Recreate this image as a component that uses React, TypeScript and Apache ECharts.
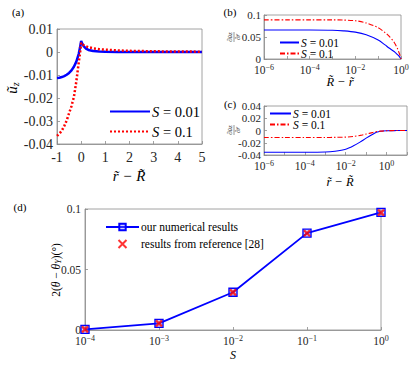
import React, { useEffect, useRef } from 'react';
import * as echarts from 'echarts';

const FONT = 'Liberation Serif';

// Panel (a)
const aX = [-1, -0.9, -0.8, -0.7, -0.6, -0.5, -0.4, -0.3, -0.2, -0.1, -0.05, 0, 0.05, 0.1, 0.2, 0.3, 0.5, 0.75, 1, 1.5, 2, 3, 4, 5];
const aBlue = [-0.0113, -0.0112, -0.0109, -0.0105, -0.0099, -0.0091, -0.008, -0.0064, -0.0042, -0.0008, 0.0018, 0.0048, 0.0035, 0.0026, 0.0015, 0.0009, 0.0004, 0.0002, 0.0001, 0.00005, 0, 0, 0, 0];
const aRed = [-0.0365, -0.0355, -0.0342, -0.0322, -0.0298, -0.0266, -0.0235, -0.0195, -0.0128, -0.0045, -0.0008, 0.004, 0.0034, 0.003, 0.0025, 0.0021, 0.0016, 0.0012, 0.001, 0.0007, 0.0005, 0.0003, 0.0002, 0.00015];

// Panel (b)
const bX = [1e-6, 1e-5, 1e-4, 1e-3, 3e-3, 1e-2, 3e-2, 0.1, 0.2, 0.3, 0.5, 0.7, 0.8, 0.9, 1];
const bBlue = [0.066, 0.066, 0.066, 0.0655, 0.064, 0.061, 0.055, 0.043, 0.032, 0.025, 0.017, 0.01, 0.007, 0.0035, 0];
const bRed = [0.089, 0.089, 0.089, 0.089, 0.0885, 0.087, 0.082, 0.071, 0.06, 0.052, 0.038, 0.024, 0.016, 0.009, 0];

// Panel (c)
const cX = [1e-6, 1e-5, 1e-4, 1e-3, 3e-3, 1e-2, 2.4e-2, 5e-2, 0.1, 0.2, 0.316, 0.5, 1, 3, 10];
const cBlue = [-0.0355, -0.0355, -0.0355, -0.0352, -0.0338, -0.0305, -0.025, -0.019, -0.0125, -0.0065, -0.003, -0.0012, -0.0004, -0.0001, 0];
const cRed = [-0.0115, -0.0115, -0.0115, -0.0114, -0.0112, -0.0108, -0.0097, -0.008, -0.0058, -0.0035, -0.0018, -0.001, -0.0003, -0.0001, 0];

// Panel (d)
const dX = [1e-4, 1e-3, 1e-2, 1e-1, 1];
const dOurs = [0.0005, 0.0055, 0.0312, 0.0801, 0.0972];
const dRef = [0.0005, 0.0055, 0.0311, 0.08, 0.097];

const zip = (xs: number[], ys: number[]) => xs.map((x, i) => [x, ys[i]]);

const numFmt = (v: number) => String(Number(v.toFixed(4)));

const supRich = (size: number) => ({
  b: { fontSize: size, fontFamily: FONT, color: '#262626' },
  s: { fontSize: Math.round(size * 0.68), fontFamily: FONT, color: '#262626', padding: [0, 0, Math.round(size * 0.55), 0] },
});

const logFmt = (every: number) => (v: number) => {
  const e = Math.round(Math.log10(v));
  if (e % every !== 0) return '';
  return `{b|10}{s|${e < 0 ? '\u2212' + -e : e}}`;
};

const axisLineC = '#8a8a8a';

function baseAxis(fontSize: number) {
  return {
    axisLine: { show: true, onZero: false, lineStyle: { color: axisLineC, width: 0.8 } },
    axisTick: { show: true, inside: true, length: 3, lineStyle: { color: axisLineC, width: 0.8 } },
    splitLine: { show: false },
    axisLabel: { color: '#262626', fontFamily: FONT, fontSize },
  };
}

export default function App() {
  const ref = useRef<HTMLDivElement>(null);
  useEffect(() => {
    const chart = echarts.init(ref.current!, null, { renderer: 'svg' });
    const blue = '#0000ff';
    const red = '#ff0000';
    const dashDot = [5, 2, 1.5, 2];
    const legRich = (size: number, lh: number) => ({
      i: { fontStyle: 'italic', fontFamily: FONT, fontSize: size, color: '#000', lineHeight: lh },
      n: { fontFamily: FONT, fontSize: size, color: '#000', lineHeight: lh },
    });
    const legFmt = (name: string) => {
      const val = name.endsWith('1') ? '0.01' : '0.1';
      return `{i|S}{n| = ${val}}`;
    };
    const hideSym = { color: 'transparent', borderColor: 'transparent', borderWidth: 0 };
    const smallLeg = (name: string, left: number, top: number, w: number) => ({
      data: [name], orient: 'vertical', left, top, itemWidth: w, itemHeight: 8, itemGap: 0, padding: 0,
      formatter: legFmt, textStyle: { rich: legRich(11.5, 11), padding: [0, 0, 0, -3] }, selectedMode: false, itemStyle: hideSym,
    });
    const option: any = {
      animation: false,
      textStyle: { fontFamily: FONT },
      grid: [
        { left: 57, top: 29, width: 145, height: 115, show: true, borderColor: axisLineC, borderWidth: 0.8, backgroundColor: 'transparent' },
        { left: 264, top: 15, width: 137, height: 44, show: true, borderColor: axisLineC, borderWidth: 0.8 },
        { left: 264, top: 106, width: 143, height: 49, show: true, borderColor: axisLineC, borderWidth: 0.8 },
        { left: 85, top: 209, width: 296, height: 121, show: true, borderColor: axisLineC, borderWidth: 0.8 },
      ],
      xAxis: [
        { gridIndex: 0, type: 'value', min: -1, max: 5, interval: 1, ...baseAxis(14), axisLabel: { ...baseAxis(14).axisLabel, margin: 6, formatter: numFmt } },
        { gridIndex: 1, type: 'log', logBase: 10, min: 1e-6, max: 1, ...baseAxis(11), axisLabel: { formatter: logFmt(2), rich: supRich(11.5), margin: 4 } },
        { gridIndex: 2, type: 'log', logBase: 10, min: 1e-6, max: 10, ...baseAxis(11), axisLabel: { formatter: logFmt(2), rich: supRich(11.5), margin: 4 } },
        { gridIndex: 3, type: 'log', logBase: 10, min: 1e-4, max: 1, ...baseAxis(11), axisLabel: { formatter: logFmt(1), rich: supRich(11.5), margin: 4 } },
      ],
      yAxis: [
        { gridIndex: 0, type: 'value', min: -0.04, max: 0.01, interval: 0.01, ...baseAxis(14), axisLabel: { ...baseAxis(14).axisLabel, margin: 4, formatter: numFmt } },
        { gridIndex: 1, type: 'value', min: 0, max: 0.1, interval: 0.05, ...baseAxis(11), axisLabel: { ...baseAxis(11).axisLabel, margin: 3, formatter: numFmt } },
        { gridIndex: 2, type: 'value', min: -0.04, max: 0.04, interval: 0.02, ...baseAxis(11), axisLabel: { ...baseAxis(11).axisLabel, margin: 3, formatter: numFmt } },
        { gridIndex: 3, type: 'value', min: 0, max: 0.1, interval: 0.05, ...baseAxis(11.5), axisLabel: { ...baseAxis(11.5).axisLabel, margin: 4, formatter: numFmt } },
      ],
      legend: [
        {
          data: ['a1', 'a2'], orient: 'vertical', left: 104, top: 99, itemWidth: 40, itemHeight: 12, itemGap: 5,
          formatter: legFmt, textStyle: { rich: legRich(14.5, 14.5), padding: [0, 0, 0, -3] }, selectedMode: false, itemStyle: hideSym,
        },
        smallLeg('b1', 279, 36.5, 19),
        smallLeg('b2', 279, 47.5, 19),
        smallLeg('c1', 269, 107.5, 21),
        smallLeg('c2', 269, 118.5, 21),
        {
          data: ['our numerical results', 'results from reference [28]'], orient: 'vertical', left: 100, top: 216, itemWidth: 33, itemHeight: 8, itemGap: 5,
          textStyle: { fontFamily: FONT, fontSize: 11.5, color: '#000', padding: [0, 0, 0, -3] }, selectedMode: false,
        },
      ],
      series: [
        { name: 'a1', type: 'line', xAxisIndex: 0, yAxisIndex: 0, data: zip(aX, aBlue), showSymbol: false, symbol: 'none', lineStyle: { color: blue, width: 2.5 }, itemStyle: { color: blue } },
        { name: 'a2', type: 'line', xAxisIndex: 0, yAxisIndex: 0, data: zip(aX, aRed), showSymbol: false, symbol: 'none', lineStyle: { color: red, width: 2.5, type: [2, 2] }, itemStyle: { color: red } },
        { name: 'b1', type: 'line', xAxisIndex: 1, yAxisIndex: 1, data: zip(bX, bBlue), smooth: 0.3, symbol: 'none', lineStyle: { color: blue, width: 1.1 }, itemStyle: { color: blue } },
        { name: 'b2', type: 'line', xAxisIndex: 1, yAxisIndex: 1, data: zip(bX, bRed), smooth: 0.3, symbol: 'none', lineStyle: { color: red, width: 1.1, type: dashDot }, itemStyle: { color: red } },
        { name: 'c1', type: 'line', xAxisIndex: 2, yAxisIndex: 2, data: zip(cX, cBlue), smooth: 0.3, symbol: 'none', lineStyle: { color: blue, width: 1.1 }, itemStyle: { color: blue } },
        { name: 'c2', type: 'line', xAxisIndex: 2, yAxisIndex: 2, data: zip(cX, cRed), smooth: 0.3, symbol: 'none', lineStyle: { color: red, width: 1.1, type: dashDot }, itemStyle: { color: red } },
        {
          name: 'our numerical results', type: 'line', xAxisIndex: 3, yAxisIndex: 3, data: zip(dX, dOurs),
          symbol: 'rect', symbolSize: 8, showSymbol: true,
          lineStyle: { color: blue, width: 1.8 }, itemStyle: { color: 'rgba(120,120,255,0.35)', borderColor: blue, borderWidth: 1.4 },
        },
        {
          name: 'results from reference [28]', type: 'scatter', xAxisIndex: 3, yAxisIndex: 3, data: zip(dX, dRef),
          symbol: 'path://M0,0L10,10M10,0L0,10', symbolSize: 6,
          itemStyle: { color: red, borderColor: red, borderWidth: 2.3 }, z: 5,
        },
      ],
      graphic: [
        { type: 'text', x: 18, y: 12, style: { text: '(a)', fontFamily: FONT, fontSize: 11, fill: '#000', align: 'center', verticalAlign: 'middle' } },
        { type: 'text', x: 230, y: 12, style: { text: '(b)', fontFamily: FONT, fontSize: 11, fill: '#000', align: 'center', verticalAlign: 'middle' } },
        { type: 'text', x: 230, y: 104, style: { text: '(c)', fontFamily: FONT, fontSize: 11, fill: '#000', align: 'center', verticalAlign: 'middle' } },
        { type: 'text', x: 20, y: 207, style: { text: '(d)', fontFamily: FONT, fontSize: 11, fill: '#000', align: 'center', verticalAlign: 'middle' } },
        // x labels
        { type: 'text', x: 129, y: 176, style: { text: 'r\u0303 \u2212 R\u0303', fontFamily: FONT, fontStyle: 'italic', fontSize: 15, fill: '#000', align: 'center', verticalAlign: 'middle' } },
        { type: 'text', x: 340, y: 82, style: { text: 'R\u0303 \u2212 r\u0303', fontFamily: FONT, fontStyle: 'italic', fontSize: 12.5, fill: '#000', align: 'center', verticalAlign: 'middle' } },
        { type: 'text', x: 340, y: 182, style: { text: 'r\u0303 \u2212 R\u0303', fontFamily: FONT, fontStyle: 'italic', fontSize: 12.5, fill: '#000', align: 'center', verticalAlign: 'middle' } },
        { type: 'text', x: 233, y: 355, style: { text: 'S', fontFamily: FONT, fontStyle: 'italic', fontSize: 12, fill: '#000', align: 'center', verticalAlign: 'middle' } },
        // y labels
        {
          type: 'text', x: 12, y: 88, rotation: Math.PI / 2,
          style: {
            text: '{u|\u0169}{z|z}', align: 'center', verticalAlign: 'middle',
            rich: { u: { fontStyle: 'italic', fontSize: 15, fontFamily: FONT, color: '#000' }, z: { fontStyle: 'italic', fontSize: 10, fontFamily: FONT, color: '#000', padding: [6, 0, 0, 0] } },
          },
        },
        {
          type: 'text', x: 56, y: 270, rotation: Math.PI / 2,
          style: {
            text: '{n|2(}{i|\u03b8}{n| \u2212 }{i|\u03b8}{s|Y}{n|)(\u00b0)}', align: 'center', verticalAlign: 'middle',
            rich: {
              n: { fontSize: 11.5, fontFamily: FONT, color: '#000' },
              i: { fontSize: 11.5, fontFamily: FONT, fontStyle: 'italic', color: '#000' },
              s: { fontSize: 8, fontFamily: FONT, fontStyle: 'italic', color: '#000', padding: [5, 0, 0, 0] },
            },
          },
        },
        ...[37, 130].map((cy) => ({
          type: 'group', x: 234, y: cy, rotation: Math.PI / 2,
          children: [
            { type: 'text', x: 0, y: -4, style: { text: '\u2202\u0169z', fontFamily: FONT, fontStyle: 'italic', fontSize: 7, fill: '#333', align: 'center', verticalAlign: 'middle' } },
            { type: 'line', shape: { x1: -5, y1: 0, x2: 5, y2: 0 }, style: { stroke: '#333', lineWidth: 0.5 } },
            { type: 'text', x: 0, y: 4, style: { text: '\u2202r\u0303', fontFamily: FONT, fontStyle: 'italic', fontSize: 7, fill: '#333', align: 'center', verticalAlign: 'middle' } },
          ],
        })),
      ],
    };
    chart.setOption(option);
    return () => chart.dispose();
  }, []);
  return <div ref={ref} style={{ position: 'fixed', left: 0, top: 0, width: 415, height: 367, background: '#fff' }} />;
}
